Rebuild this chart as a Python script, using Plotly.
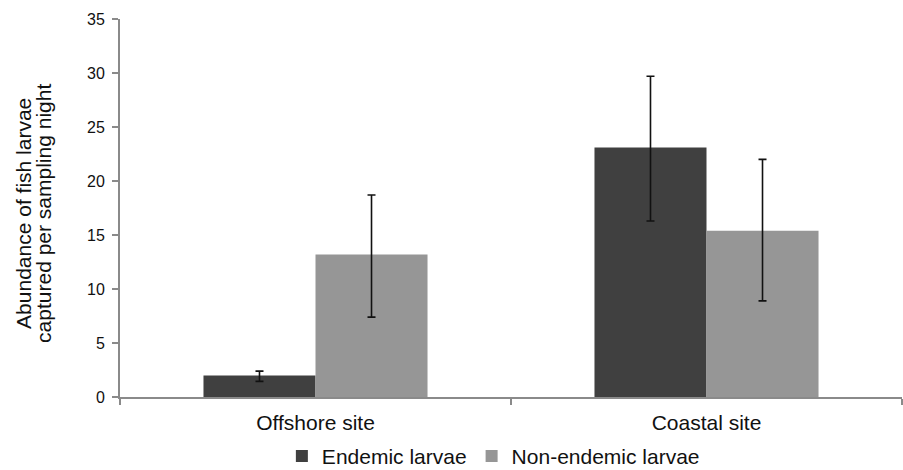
import plotly.graph_objects as go

sites = ["Offshore site", "Coastal site"]
endemic = [2.0, 23.1]
endemic_err_plus = [0.4, 6.6]
endemic_err_minus = [0.55, 6.8]
nonendemic = [13.2, 15.4]
nonendemic_err_plus = [5.5, 6.6]
nonendemic_err_minus = [5.8, 6.5]
y_ticks = [0, 5, 10, 15, 20, 25, 30, 35]
y_title_lines = ["Abundance of fish larvae", "captured per sampling night"]

FONT = "Liberation Sans, Arial, Helvetica, sans-serif"

fig = go.Figure()
fig.add_trace(go.Bar(
    name="Endemic larvae", x=sites, y=endemic,
    marker=dict(color="#404040", line=dict(width=0)),
    error_y=dict(type="data", symmetric=False, array=endemic_err_plus,
                 arrayminus=endemic_err_minus, color="#111111", thickness=1.6, width=4),
))
fig.add_trace(go.Bar(
    name="Non-endemic larvae", x=sites, y=nonendemic,
    marker=dict(color="#969696", line=dict(width=0)),
    error_y=dict(type="data", symmetric=False, array=nonendemic_err_plus,
                 arrayminus=nonendemic_err_minus, color="#111111", thickness=1.6, width=4),
))

fig.update_layout(
    width=903, height=470,
    margin=dict(l=120, r=1, t=19, b=73, autoexpand=False),
    paper_bgcolor="white", plot_bgcolor="white",
    barmode="group", bargap=0.427, bargroupgap=0,
    font=dict(family=FONT, color="#111111"),
    showlegend=True,
    legend=dict(orientation="h", x=0.207, xanchor="left", y=-0.157, yanchor="middle",
                font=dict(size=21, family=FONT), itemwidth=30, traceorder="normal"),
)
fig.update_xaxes(
    type="category", range=[-0.5, 1.5], tickson="boundaries",
    ticks="outside", ticklen=6, tickwidth=1.5, tickcolor="#8a8a8a",
    showline=True, linecolor="#8a8a8a", linewidth=2,
    showgrid=False, zeroline=False, ticklabelstandoff=6,
    tickfont=dict(size=21, family=FONT, color="#111111"),
)
fig.update_yaxes(
    range=[0, 35], tickvals=y_ticks, ticktext=[str(v) for v in y_ticks],
    ticks="outside", ticklen=6, tickwidth=1.5, tickcolor="#8a8a8a",
    showline=True, linecolor="#8a8a8a", linewidth=2,
    showgrid=False, zeroline=False, ticklabelstandoff=4,
    tickfont=dict(size=16, family=FONT, color="#111111"),
)

for line, xp in zip(y_title_lines, [-0.1228, -0.0972]):
    fig.add_annotation(
        text=line, xref="paper", yref="paper", x=xp, y=0.487,
        xanchor="center", yanchor="middle", textangle=-90, showarrow=False,
        font=dict(size=21, family=FONT, color="#111111"),
    )

fig.write_html(
    "out.html",
    config={"displayModeBar": False},
    post_script="document.body.style.margin='0';document.body.style.overflow='hidden';",
)
